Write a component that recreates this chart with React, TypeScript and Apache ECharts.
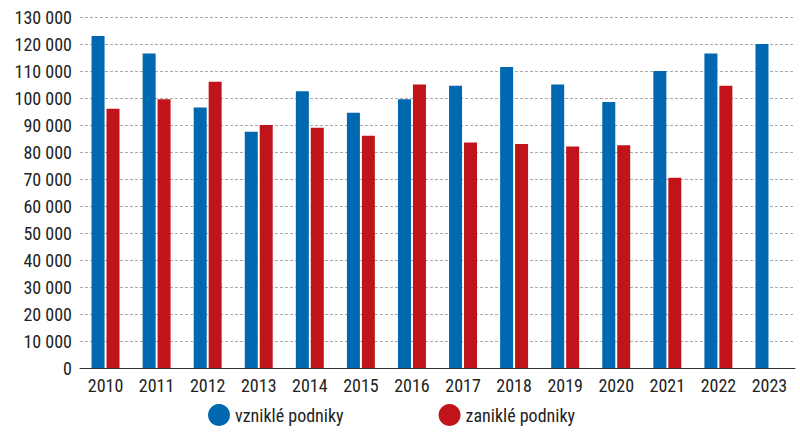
import * as echarts from "echarts";
import { useEffect, useRef } from "react";

const years = ["2010", "2011", "2012", "2013", "2014", "2015", "2016", "2017", "2018", "2019", "2020", "2021", "2022", "2023"];
const vznikle = [123000, 116500, 96500, 87500, 102500, 94500, 99500, 104500, 111500, 105000, 98500, 110000, 116500, 120000];
const zanikle: (number | null)[] = [96000, 99500, 106000, 90000, 89000, 86000, 105000, 83500, 83000, 82000, 82500, 70500, 104500, null];

const font = "'Liberation Sans Narrow', 'Roboto Condensed', 'Liberation Sans', sans-serif";
const fmt = (v: number) => (v >= 1000 ? `${Math.floor(v / 1000)} ${String(v % 1000).padStart(3, "0")}` : String(v));

export default function App() {
  const box = useRef<HTMLDivElement>(null);

  useEffect(() => {
    if (!box.current) return;
    const c = echarts.init(box.current, undefined, { renderer: "svg" });
    c.setOption({
      animation: false,
      textStyle: { fontFamily: font },
      grid: { left: 80, right: 5, top: 17, bottom: 69 },
      legend: {
        bottom: 6,
        left: 203,
        itemGap: 95,
        itemWidth: 22,
        itemHeight: 22,
        icon: "circle",
        textStyle: { fontSize: 18, color: "#222", fontFamily: font },
        data: ["vzniklé podniky", "zaniklé podniky"],
      },
      xAxis: {
        type: "category",
        data: years,
        axisTick: { show: false },
        axisLine: { lineStyle: { color: "#333" } },
        axisLabel: { fontSize: 18, color: "#222", margin: 8 },
      },
      yAxis: {
        type: "value",
        min: 0,
        max: 130000,
        interval: 10000,
        axisLabel: { fontSize: 18, color: "#222", formatter: fmt, margin: 8 },
        splitLine: { lineStyle: { color: "#aaa", type: [3, 2] } },
      },
      series: [
        { name: "vzniklé podniky", type: "bar", data: vznikle, barWidth: 13, barGap: "15%", itemStyle: { color: "#0067b1" } },
        { name: "zaniklé podniky", type: "bar", data: zanikle, barWidth: 13, itemStyle: { color: "#c0141a" } },
      ],
    });
    return () => c.dispose();
  }, []);

  return <div ref={box} style={{ position: "absolute", left: 0, top: 0, width: 800, height: 437 }} />;
}
